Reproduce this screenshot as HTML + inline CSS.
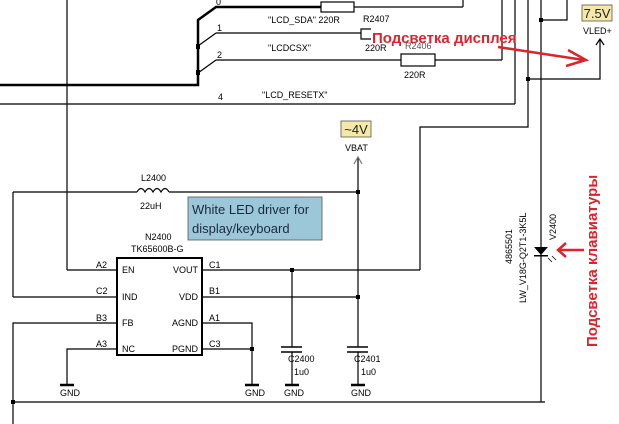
<!DOCTYPE html>
<html><head><meta charset="utf-8"><style>
html,body{margin:0;padding:0;background:#fff;}
svg{display:block;font-family:"Liberation Sans",sans-serif;}
</style></head><body>
<svg width="619" height="424" viewBox="0 0 619 424" xmlns="http://www.w3.org/2000/svg">
<g stroke="#000" stroke-width="1.2" fill="none">
<!-- left vertical -->
<line x1="67" y1="0" x2="67" y2="270"/>
<line x1="67" y1="270" x2="117" y2="270"/>
<!-- bus -->
<polyline points="0,85 198,85 198,20 216,7 321,7" stroke-width="2.5"/>
<line x1="198" y1="20" x2="216" y2="7" stroke-width="1.2"/>
<line x1="354" y1="7" x2="463" y2="7"/>
<line x1="463" y1="7" x2="463" y2="0"/>
<rect x="321" y="2" width="33" height="10" fill="#fff"/>
<line x1="198" y1="46" x2="216" y2="33"/>
<line x1="216" y1="33" x2="361" y2="33"/>
<polyline points="371,29 361,29 361,39 371,39"/>
<line x1="198" y1="73" x2="216" y2="60"/>
<line x1="216" y1="60" x2="401" y2="60"/>
<rect x="401" y="54" width="34" height="12" fill="#fff"/>
<line x1="435" y1="60" x2="502" y2="60"/>
<line x1="502" y1="60" x2="502" y2="0"/>
<line x1="0" y1="104" x2="515" y2="104"/>
<line x1="515" y1="104" x2="515" y2="0"/>
<polyline points="528,0 528,127 420,127 420,270"/>
<line x1="541" y1="0" x2="541" y2="402"/>
<polyline points="541,20 567,20 567,0"/>
<polyline points="528,79 600,79 600,40"/>
<polyline points="596,45 600,39 604,45"/>
<!-- VBAT -->
<line x1="358" y1="158" x2="358" y2="347"/>
<polyline points="354,164 358,157 362,164" stroke="#777"/>
<!-- L2400 line -->
<line x1="13" y1="192" x2="137" y2="192"/>
<path d="M137,192 q4,-7 8,0 q4,-7 8,0 q4,-7 8,0 q4,-7 8,0"/>
<line x1="169" y1="192" x2="358" y2="192"/>
<line x1="13" y1="192" x2="13" y2="297"/>
<line x1="13" y1="297" x2="117" y2="297"/>
<polyline points="117,323 13,323 13,424"/>
<polyline points="117,349 67,349 67,385"/>
<!-- chip -->
<rect x="117" y="258" width="85" height="97" stroke-width="2"/>
<line x1="202" y1="270" x2="420" y2="270"/>
<line x1="202" y1="297" x2="358" y2="297"/>
<polyline points="202,323 252,323 252,385"/>
<line x1="202" y1="349" x2="252" y2="349"/>
<!-- C2400 -->
<line x1="292" y1="270" x2="292" y2="347"/>
<line x1="281" y1="347" x2="302" y2="347" stroke-width="1.5"/>
<line x1="281" y1="352" x2="302" y2="352" stroke-width="1.5"/>
<line x1="292" y1="352" x2="292" y2="385"/>
<line x1="347" y1="347" x2="368" y2="347" stroke-width="1.5"/>
<line x1="347" y1="352" x2="368" y2="352" stroke-width="1.5"/>
<line x1="358" y1="352" x2="358" y2="385"/>
<!-- GND bars -->
<g stroke-width="2.5">
<line x1="60" y1="385" x2="74" y2="385"/>
<line x1="245" y1="385" x2="259" y2="385"/>
<line x1="285" y1="385" x2="299" y2="385"/>
<line x1="351" y1="385" x2="365" y2="385"/>
</g>
<line x1="13" y1="402" x2="545" y2="402"/>
</g>
<!-- dots -->
<g fill="#000">
<rect x="196" y="44" width="4" height="5"/><rect x="196" y="70" width="4" height="5"/>
<rect x="539" y="18" width="4" height="4"/><rect x="526" y="77" width="4" height="4"/>
<rect x="356" y="190" width="4" height="4"/><rect x="356" y="295" width="4" height="4"/>
<rect x="290" y="268" width="4" height="4"/><rect x="250" y="347" width="4" height="4"/>
<rect x="11" y="400" width="4" height="4"/>
<!-- LED -->
<polygon points="534,247 548,247 541,255"/>
<rect x="534" y="255" width="14" height="1.5"/>
</g>
<g stroke="#000" stroke-width="0.8"><line x1="548" y1="258" x2="552" y2="262"/><line x1="552" y1="256" x2="556" y2="260"/></g>
<!-- labels -->
<g font-size="9" fill="#000">
<text x="216" y="5">0</text><text x="217" y="31">1</text><text x="217" y="58">2</text><text x="218" y="100">4</text>
<text x="268" y="23">"LCD_SDA"  220R</text>
<text x="363" y="22">R2407</text>
<text x="268" y="51">"LCDCSX"</text>
<text x="365" y="51">220R</text>
<text x="405" y="49" fill="#555">R2406</text>
<text x="404" y="78">220R</text>
<text x="262" y="98">"LCD_RESETX"</text>
<text x="583" y="34">VLED+</text>
<text x="345" y="151">VBAT</text>
<text x="141" y="181">L2400</text>
<text x="140" y="209">22uH</text>
<text x="145" y="240">N2400</text>
<text x="131" y="252">TK65600B-G</text>
<text x="122" y="273">EN</text><text x="122" y="300">IND</text><text x="122" y="326">FB</text><text x="122" y="352">NC</text>
<text x="198" y="273" text-anchor="end">VOUT</text><text x="198" y="300" text-anchor="end">VDD</text><text x="198" y="326" text-anchor="end">AGND</text><text x="198" y="352" text-anchor="end">PGND</text>
<text x="96" y="268">A2</text><text x="96" y="294">C2</text><text x="96" y="321">B3</text><text x="96" y="347">A3</text>
<text x="209" y="268">C1</text><text x="209" y="294">B1</text><text x="209" y="321">A1</text><text x="209" y="347">C3</text>
<text x="288" y="362">C2400</text><text x="294" y="375">1u0</text>
<text x="354" y="362">C2401</text><text x="361" y="375">1u0</text>
<text x="60" y="396">GND</text><text x="245" y="396">GND</text><text x="284" y="396">GND</text><text x="351" y="396">GND</text>
<text transform="translate(556,240) rotate(-90)">V2400</text>
<text transform="translate(526,303) rotate(-90)">LW_V18G-Q2T1-3K5L</text>
<text transform="translate(512,264) rotate(-90)">4865501</text>
</g>
<!-- yellow labels -->
<rect x="582" y="5" width="30" height="16" fill="#f4e9a6" stroke="#555" stroke-width="0.8"/>
<text x="597" y="18" font-size="13" text-anchor="middle" fill="#222">7.5V</text>
<rect x="341" y="121" width="30" height="16" fill="#f4e9a6" stroke="#555" stroke-width="0.8"/>
<text x="356" y="134" font-size="13" text-anchor="middle" fill="#222">~4V</text>
<!-- blue box -->
<rect x="188" y="197" width="134" height="43" fill="#9cc7d8" stroke="#555" stroke-width="0.8"/>
<text x="192" y="214" font-size="13" fill="#1a2a40">White LED driver for</text>
<text x="192" y="233" font-size="13" fill="#1a2a40">display/keyboard</text>
<!-- red annotations -->
<text x="372" y="43" font-size="15" font-weight="bold" fill="#d9252b">Подсветка дисплея</text>
<g stroke="#d9252b" stroke-width="2.5" fill="none">
<line x1="498" y1="47" x2="584" y2="60"/>
<polyline points="568,50 586,60 566,66"/>
<line x1="558" y1="250" x2="584" y2="250"/>
<polyline points="566,243 558,250 566,257"/>
</g>
<text transform="translate(597,347) rotate(-90)" font-size="15" font-weight="bold" fill="#d9252b">Подсветка клавиатуры</text>
</svg>
</body></html>
